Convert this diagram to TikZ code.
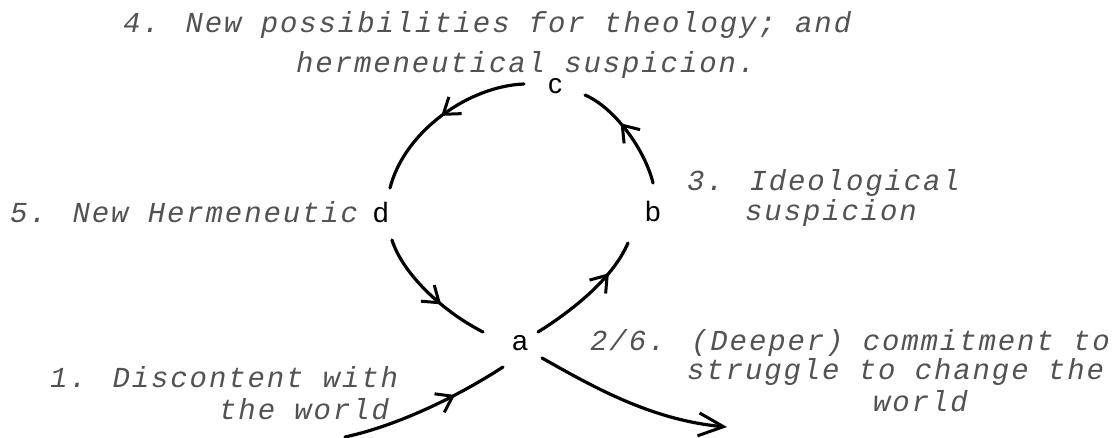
\documentclass[tikz,border=0pt]{standalone}
\usepackage{fontspec}
\usetikzlibrary{arrows.meta,decorations.markings}
\newfontfamily\typew[LetterSpace=6.5]{Liberation Mono}
\newfontfamily\lettfont{Liberation Sans}
\tikzset{
  txt/.style={anchor=base west,inner sep=0pt,text=black!68,font=\typew\itshape\fontsize{29}{30}\selectfont},
  lett/.style={anchor=base,inner sep=0pt,text=black,font=\lettfont\fontsize{28}{30}\selectfont},
  pen/.style={line width=3.2pt,line cap=round,black},
  midarrow/.style={postaction={decorate},decoration={markings,mark=at position #1 with {\arrow{Straight Barb[length=15pt,width=21pt,line width=3pt]}}}},
  endarrow/.style={-{Straight Barb[length=25pt,width=23pt,line width=3pt]}}
}
\begin{document}
\begin{tikzpicture}[x=1pt,y=-1pt]
\useasboundingbox (0,0) rectangle (1116,438);
% letters
\node[lett] (c) at (555,93.5) {c};
\node[lett] (d) at (381,223) {d};
\node[lett] (b) at (653,222) {b};
\node[lett] (a) at (520,350) {a};
% texts
\node[txt] (t4a) at (123,33) {4. New possibilities for theology; and};
\node[txt] (t4b) at (296,73) {hermeneutical suspicion.};
\node[txt] (t5) at (10,223) {5. New Hermeneutic};
\node[txt] (t3a) at (687,191) {3. Ideological};
\node[txt] (t3b) at (745,221) {suspicion};
\node[txt] (t1a) at (50,387) {1. Discontent with};
\node[txt] (t1b) at (219,419) {the world};
\node[txt] (t2a) at (590,350) {2/6. (Deeper) commitment to};
\node[txt] (t2b) at (687,379) {struggle to change the};
\node[txt] (t2c) at (873,411) {world};
% free ends
\coordinate (in) at (345,437);
\coordinate (out) at (727,427);
% connectors
\draw[pen,midarrow=0.5] ([shift={(-31,-9.5)}]c.base) .. controls +(-54,2) and +(15,-58) .. ([shift={(9,-35)}]d.base);
\draw[pen,midarrow=0.6] ([shift={(0,-39)}]b.base) .. controls +(-8,-33) and +(30,13) .. ([shift={(30,1.5)}]c.base);
\draw[pen,midarrow=0.62] ([shift={(11,17)}]d.base) .. controls +(10,32) and +(-43,-22) .. ([shift={(-37,-18)}]a.base);
\draw[pen,midarrow=0.72] ([shift={(18,-18)}]a.base) .. controls +(32,-20) and +(-16,37) .. ([shift={(-25,21)}]b.base);
\draw[pen,midarrow=0.68] (in) .. controls +(55,-12) and +(-43,28) .. ([shift={(-17,17)}]a.base);
\draw[pen,endarrow] ([shift={(22,8)}]a.base) .. controls +(48,27) and +(-77,-7) .. (out);
\end{tikzpicture}
\end{document}
